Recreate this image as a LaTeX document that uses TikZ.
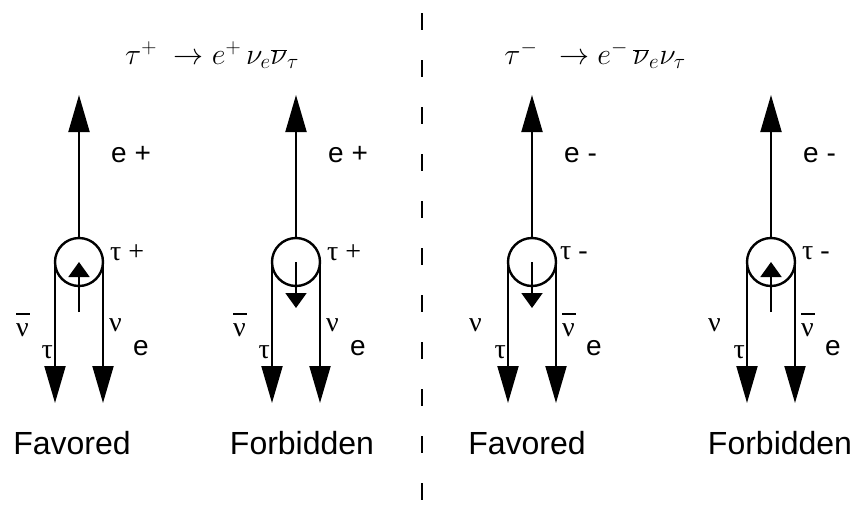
\documentclass[tikz,border=0pt]{standalone}
\usepackage{fix-cm}
\usepackage{fontspec}
\setmainfont{Liberation Sans}
\newfontfamily\greekfont{Liberation Serif}
\usetikzlibrary{arrows.meta}

\tikzset{
	bigarrow/.style = {line width=2pt, -{Triangle[width=21pt,length=37pt]}},
	spinarrow/.style = {line width=2pt, -{Triangle[width=21pt,length=15pt]}},
	taucircle/.style = {circle, draw, line width=2.4pt, minimum size=48pt, inner sep=0pt, outer sep=0pt},
	lab/.style = {font=\fontsize{28}{30}\selectfont, inner sep=0pt},
	greek/.style = {font=\fontsize{28}{30}\selectfont\greekfont, inner sep=0pt},
	captionlabel/.style = {font=\fontsize{32}{36}\selectfont, inner sep=0pt},
	title/.style = {font=\fontsize{30}{34}\selectfont, inner sep=0pt}
}
\newcommand{\nubar}{\makebox[0pt][l]{\rule[0.78em]{0.5em}{2pt}}ν}

\begin{document}
\begin{tikzpicture}[x=1pt, y=-1pt]
	\useasboundingbox (0,0) rectangle (857,509);
	% titles and the dashed divider
	\node[title] (title1) at (212,55) {$\tau^{+}\;\rightarrow e^{+}\,\nu_{e}\overline{\nu}_{\tau}$};
	\node[title] (title2) at (595,55) {$\tau^{-}\;\,\rightarrow e^{-}\,\overline{\nu}_{e}\nu_{\tau}$};
	\coordinate (divtop) at (422,13);
	\coordinate (divbot) at (422,509);
	\draw [line width=2pt, dash pattern=on 17pt off 30pt] (divtop) -- (divbot);
	% tau+ favored
	\begin{scope}[xshift = 79pt]
	\node[taucircle] (tau1) at (0,262) {};
	\coordinate (e1) at (0,95);
	\coordinate (nl1) at (-24,403);
	\coordinate (nr1) at (24,403);
	\coordinate (s1) at (0,312);
	\draw[bigarrow] (tau1.north) -- (e1);
	\draw[bigarrow] (tau1.west) -- (nl1);
	\draw[bigarrow] (tau1.east) -- (nr1);
	\draw[spinarrow] (s1) -- (tau1.center);
	\node[lab, anchor=west] (elab1) at (32,155) {e +};
	\node[greek, anchor=west] (tlab1) at (31,253) {τ +};
	\node[greek, anchor=east] (nl1lab) at (-50,325) {\nubar};
	\node[greek, anchor=east] (nl1sub) at (-26,352) {τ};
	\node[greek, anchor=west] (nr1lab) at (30,325) {ν};
	\node[lab, anchor=west] (nr1sub) at (54,348) {e};
	\node[captionlabel] (cap1) at (-7,443) {Favored};
	\end{scope}
	% tau+ forbidden
	\begin{scope}[xshift = 296pt]
	\node[taucircle] (tau2) at (0,262) {};
	\coordinate (e2) at (0,95);
	\coordinate (nl2) at (-24,403);
	\coordinate (nr2) at (24,403);
	\coordinate (s2) at (0,308);
	\draw[bigarrow] (tau2.north) -- (e2);
	\draw[bigarrow] (tau2.west) -- (nl2);
	\draw[bigarrow] (tau2.east) -- (nr2);
	\draw[spinarrow] (tau2.center) -- (s2);
	\node[lab, anchor=west] (elab2) at (32,155) {e +};
	\node[greek, anchor=west] (tlab2) at (31,253) {τ +};
	\node[greek, anchor=east] (nl2lab) at (-50,325) {\nubar};
	\node[greek, anchor=east] (nl2sub) at (-26,352) {τ};
	\node[greek, anchor=west] (nr2lab) at (30,325) {ν};
	\node[lab, anchor=west] (nr2sub) at (54,348) {e};
	\node[captionlabel] (cap2) at (6,443) {Forbidden};
	\end{scope}
	% tau- favored
	\begin{scope}[xshift = 532pt]
	\node[taucircle] (tau3) at (0,262) {};
	\coordinate (e3) at (0,95);
	\coordinate (nl3) at (-24,403);
	\coordinate (nr3) at (24,403);
	\coordinate (s3) at (0,308);
	\draw[bigarrow] (tau3.north) -- (e3);
	\draw[bigarrow] (tau3.west) -- (nl3);
	\draw[bigarrow] (tau3.east) -- (nr3);
	\draw[spinarrow] (tau3.center) -- (s3);
	\node[lab, anchor=west] (elab3) at (32,155) {e -};
	\node[greek, anchor=west] (tlab3) at (28,253) {τ -};
	\node[greek, anchor=east] (nl3lab) at (-50,325) {ν};
	\node[greek, anchor=east] (nl3sub) at (-26,352) {τ};
	\node[greek, anchor=west] (nr3lab) at (30,325) {\nubar};
	\node[lab, anchor=west] (nr3sub) at (54,348) {e};
	\node[captionlabel] (cap3) at (-5,443) {Favored};
	\end{scope}
	% tau- forbidden
	\begin{scope}[xshift = 771pt]
	\node[taucircle] (tau4) at (0,262) {};
	\coordinate (e4) at (0,95);
	\coordinate (nl4) at (-24,403);
	\coordinate (nr4) at (24,403);
	\coordinate (s4) at (0,312);
	\draw[bigarrow] (tau4.north) -- (e4);
	\draw[bigarrow] (tau4.west) -- (nl4);
	\draw[bigarrow] (tau4.east) -- (nr4);
	\draw[spinarrow] (s4) -- (tau4.center);
	\node[lab, anchor=west] (elab4) at (32,155) {e -};
	\node[greek, anchor=west] (tlab4) at (31,253) {τ -};
	\node[greek, anchor=east] (nl4lab) at (-50,325) {ν};
	\node[greek, anchor=east] (nl4sub) at (-26,352) {τ};
	\node[greek, anchor=west] (nr4lab) at (30,325) {\nubar};
	\node[lab, anchor=west] (nr4sub) at (54,348) {e};
	\node[captionlabel] (cap4) at (9,443) {Forbidden};
	\end{scope}
\end{tikzpicture}
\end{document}
